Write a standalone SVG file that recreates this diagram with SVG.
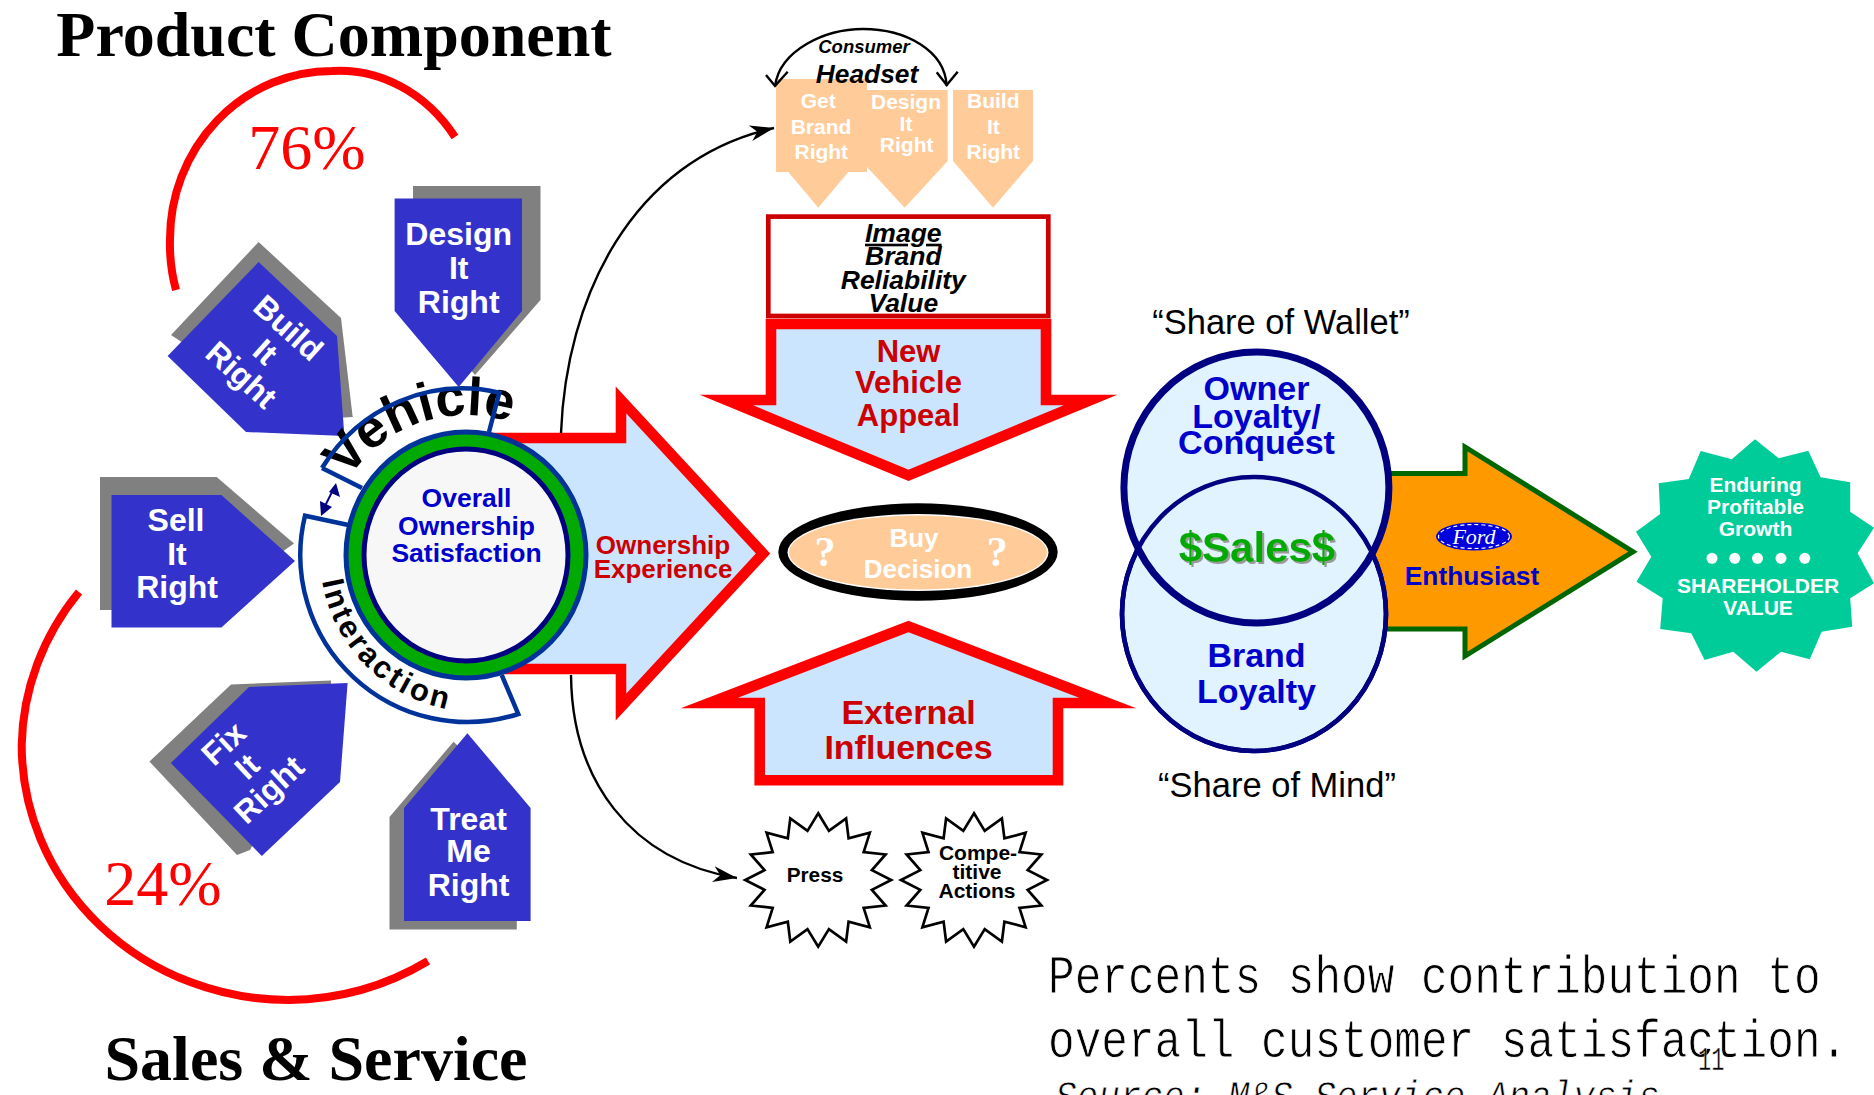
<svg xmlns="http://www.w3.org/2000/svg" xmlns:xlink="http://www.w3.org/1999/xlink" width="1874" height="1095" viewBox="0 0 1874 1095">
<style>
text{font-family:"Liberation Sans",Arial,sans-serif;font-weight:700;text-anchor:middle}
.w{fill:#fff}.b{fill:#0000cc}.r{fill:#cc0000}.k{fill:#000}
.bi{font-style:italic}
.ser{font-family:"Liberation Serif","Times New Roman",serif}
.mono{font-family:"Liberation Mono","Courier New",monospace;font-weight:400;text-anchor:start;stroke:#fff;stroke-width:.7px}
.blue{fill:#3333cc}.gray{fill:#808080}.peach{fill:#ffcc99}
.arc{fill:none;stroke:#ff0000;stroke-width:8}
.redarrow{fill:#cce5ff;stroke:#ff0000;stroke-width:10.6;stroke-miterlimit:10}
.band{fill:none;stroke:#003399;stroke-width:4.5}
.star{fill:#fff;stroke:#000;stroke-width:2.7}
.curve{fill:none;stroke:#000;stroke-width:2.4}
.n32{font-size:32px}.n21{font-size:21px}
</style>
<defs>
<marker id="stealth" markerUnits="userSpaceOnUse" markerWidth="30" markerHeight="20" refX="24" refY="10" orient="auto">
<path d="M0 2 L24 10 L0 18 L7 10Z" fill="#000"/>
</marker>
<filter id="shadow" x="-10%" y="-10%" width="120%" height="130%"><feDropShadow dx="2" dy="2" stdDeviation="0.5" flood-color="#999"/></filter>
<polygon id="burst" points="0,-66.7 10.7,-49.1 27.9,-61.6 30.4,-41.6 51.6,-47.2 45.5,-27.8 67.4,-25.5 53.7,-9.8 73,0 53.7,9.8 67.4,25.5 45.5,27.8 51.6,47.2 30.4,41.6 27.9,61.6 10.7,49.1 0,66.7 -10.7,49.1 -27.9,61.6 -30.4,41.6 -51.6,47.2 -45.5,27.8 -67.4,25.5 -53.7,9.8 -73,0 -53.7,-9.8 -67.4,-25.5 -45.5,-27.8 -51.6,-47.2 -30.4,-41.6 -27.9,-61.6 -10.7,-49.1"/>
<path id="vehPath" d="M348.6 478.8A140 140 0 0 1 536 433.8"/>
<path id="intPath" d="M322 581A158 158 0 0 0 458 711"/>
</defs>
<rect width="1874" height="1095" fill="#fff"/>

<g id="titles">
<text class="ser k" x="334" y="56" font-size="64">Product Component</text>
<text class="ser k" x="316" y="1080" font-size="64">Sales &amp; Service</text>
</g>
<g id="pct76"><path class="arc" d="M176 290A162 168 0 0 1 170 239A162 168 0 0 1 332 71A145 168 0 0 1 455 137"/>
<text class="ser" x="307" y="169" font-size="64" fill="#f00" style="font-weight:400">76%</text></g>
<g id="pct24"><path class="arc" d="M79 592A267 255 0 0 0 21.7 745A267 255 0 0 0 288.6 1000A267 255 0 0 0 428 961"/>
<text class="ser" x="163" y="905" font-size="64" fill="#f00" style="font-weight:400">24%</text></g>

<g id="ownership-arrow">
<polygon class="redarrow" points="480,438 621,438 621,400 763,553.5 621,707 621,669 480,669"/>
<text class="r" x="663" y="554" font-size="26">Ownership</text>
<text class="r" x="663" y="578" font-size="26">Experience</text>
</g>

<g id="design-it-right">
<polygon class="gray" points="413,186 540.5,186 540.5,300 475,375 413,300"/>
<polygon class="blue" points="394.6,198.6 522,198.6 522,311 458.7,387 394.6,311"/>
<text class="w n32" x="458.7" y="245">Design</text><text class="w n32" x="458.7" y="278.6">It</text><text class="w n32" x="458.7" y="312.5">Right</text>
</g>
<g id="build-it-right">
<polygon class="gray" points="258.6,242 341,318 352.7,417 300,420 171,335"/>
<polygon class="blue" points="258.6,262 337,336 344.4,436 246,432 167.6,356"/>
<text class="w n32" transform="translate(281 336) rotate(42)">Build</text>
<text class="w n32" transform="translate(258 360) rotate(42)">It</text>
<text class="w n32" transform="translate(234 383) rotate(42)">Right</text>
</g>
<g id="sell-it-right">
<polygon class="gray" points="100,477 216.7,477 294,543.6 200,610 100,610"/>
<polygon class="blue" points="111.5,495 221.4,495 295,561 221.4,627.4 111.5,627.4"/>
<text class="w n32" x="176" y="531">Sell</text><text class="w n32" x="177" y="565">It</text><text class="w n32" x="177" y="598">Right</text>
</g>
<g id="fix-it-right">
<polygon class="gray" points="231,684.4 331,680.5 331,700 250,850 237,855 149.5,761.6"/>
<polygon class="blue" points="249,687 347.6,683 340,782 261.8,856 170.8,763"/>
<text class="w n32" transform="translate(231 751.5) rotate(-43)">Fix</text>
<text class="w n32" transform="translate(254.5 774.5) rotate(-43)">It</text>
<text class="w n32" transform="translate(276.5 797.6) rotate(-43)">Right</text>
</g>
<g id="treat-me-right">
<polygon class="gray" points="453.5,741.8 389.5,817 389.5,929.4 516.8,929.4 516.8,800"/>
<polygon class="blue" points="467.4,733.3 530.6,808 530.6,921 404,921 404,808"/>
<text class="w n32" x="468.6" y="829.5">Treat</text><text class="w n32" x="468.6" y="862.4">Me</text><text class="w n32" x="468.6" y="896">Right</text>
</g>

<g id="vehicle-band">
<path d="M322 468A166 170 0 0 1 499.3 392.7L489 432L362 488Z" fill="#fff"/>
<text class="k" font-size="53.5"><textPath href="#vehPath" xlink:href="#vehPath" style="text-anchor:start">Vehicle</textPath></text>
<path class="band" d="M322 468A166 170 0 0 1 499.3 392.7L489 432M362 488L322 468"/>
</g>
<g id="interaction-band">
<path d="M305 515.7A167 167 0 0 0 518.3 714L501.7 675L348.3 525Z" fill="#fff"/>
<text class="k" font-size="31" letter-spacing="3.1"><textPath href="#intPath" xlink:href="#intPath" style="text-anchor:start">Interaction</textPath></text>
<path class="band" d="M348.3 525L305 515.7A167 167 0 0 0 518.3 714L501.7 675"/>
</g>
<g id="band-link">
<line x1="333" y1="490" x2="323" y2="510" stroke="#000080" stroke-width="2"/>
<polygon points="336,483 340,497 329,492" fill="#000080"/><polygon points="321,516 320,501 332,507" fill="#000080"/>
</g>
<g id="overall-satisfaction">
<ellipse cx="466" cy="555" rx="120" ry="123" fill="#00aa00" stroke="#003399" stroke-width="5"/>
<ellipse cx="466" cy="555" rx="102" ry="106" fill="#f7f7f7" stroke="#000080" stroke-width="5"/>
<text class="b" x="466.5" y="507" font-size="26.5">Overall</text>
<text class="b" x="466.5" y="535" font-size="26.5">Ownership</text>
<text class="b" x="466.5" y="562" font-size="26.5">Satisfaction</text>
</g>

<g id="get-brand-right">
<polygon class="peach" points="776,79 867,79 867,172 848.3,172 818.3,207.7 788.3,172 776,172"/>
<text class="w n21" x="818.3" y="108">Get</text><text class="w n21" x="821" y="134">Brand</text><text class="w n21" x="821.3" y="159">Right</text>
</g>
<g id="design-it-right-small">
<polygon class="peach" points="867,90 947.7,90 947.7,161 904.7,207.7 867,167"/>
<text class="w n21" x="906" y="109">Design</text><text class="w n21" x="906" y="131">It</text><text class="w n21" x="906.7" y="152">Right</text>
</g>
<g id="build-it-right-small">
<polygon class="peach" points="953,90 1033,90 1033,161 993,207.7 953,161"/>
<text class="w n21" x="993.3" y="108">Build</text><text class="w n21" x="993.3" y="134">It</text><text class="w n21" x="993.3" y="159">Right</text>
</g>
<g id="headset">
<text class="k bi" x="864" y="52.7" font-size="18.5">Consumer</text>
<text class="k bi" x="867" y="82.7" font-size="26.3">Headset</text>
</g>
<g id="attributes">
<rect x="768.3" y="216.6" width="280" height="99.4" fill="#fff" stroke="#cc0000" stroke-width="4.7"/>
<text class="k bi" x="903.3" y="241.7" font-size="26.5" text-decoration="underline">Image</text>
<text class="k bi" x="903.3" y="265" font-size="26.5">Brand</text>
<text class="k bi" x="903.3" y="289" font-size="26.5" textLength="125" lengthAdjust="spacingAndGlyphs">Reliability</text>
<text class="k bi" x="903.3" y="311.7" font-size="26.5">Value</text>
</g>
<g id="new-vehicle-appeal">
<polygon class="redarrow" points="771,324 1046,324 1046,400 1090.6,400 908.5,475.3 726.4,400 771,400"/>
<text class="r" x="908.5" y="361.7" font-size="31">New</text><text class="r" x="908.5" y="393.3" font-size="31">Vehicle</text><text class="r" x="908.5" y="426" font-size="31">Appeal</text>
</g>
<g id="buy-decision">
<ellipse cx="918" cy="552" rx="139.7" ry="48.7" fill="#000"/>
<ellipse cx="918" cy="552.5" rx="130.5" ry="38.5" fill="#fff"/>
<ellipse cx="918" cy="552.5" rx="129" ry="37" class="peach"/>
<text class="w" x="914" y="546.7" font-size="26">Buy</text><text class="w" x="918" y="578.3" font-size="26">Decision</text>
<text class="w ser" x="825" y="566" font-size="42">?</text><text class="w ser" x="997.3" y="566" font-size="42">?</text>
</g>
<g id="external-influences">
<polygon class="redarrow" points="908.5,626.5 1107.7,703 1058,703 1058,780.3 759.7,780.3 759.7,703 709.3,703"/>
<text class="r" x="908.5" y="724.3" font-size="34">External</text><text class="r" x="908.5" y="759.3" font-size="34">Influences</text>
</g>
<g id="press"><use href="#burst" xlink:href="#burst" class="star" x="818.2" y="880"/>
<text class="k" x="815" y="881.7" font-size="20.8">Press</text></g>
<g id="competitive-actions"><use href="#burst" xlink:href="#burst" class="star" x="974" y="880"/>
<text class="k" x="978" y="860" font-size="21">Compe-</text><text class="k" x="977" y="879.3" font-size="21">titive</text><text class="k" x="977" y="898.3" font-size="21">Actions</text></g>

<g id="enthusiast">
<polygon points="1370,473.5 1465,473.5 1465,447 1633,551.7 1465,656 1465,629 1370,629" fill="#ff9900" stroke="#006600" stroke-width="5" stroke-miterlimit="10"/>
<ellipse cx="1474" cy="536.5" rx="38" ry="14" fill="#0000dd"/>
<ellipse cx="1474" cy="536.5" rx="35.5" ry="12" fill="none" stroke="#fff" stroke-width="1.2" stroke-dasharray="4 3"/>
<text class="w ser bi" x="1474" y="544" font-size="22" style="font-weight:400">Ford</text>
<text class="b" x="1472" y="585" font-size="26.3">Enthusiast</text>
</g>
<g id="venn">
<text class="k" x="1281" y="334.3" font-size="34.5" style="font-weight:400">“Share of Wallet”</text>
<ellipse cx="1254" cy="614" rx="132" ry="137" fill="#e1f3ff" stroke="#000080" stroke-width="4.6"/>
<ellipse cx="1256.4" cy="487.5" rx="132.5" ry="135.5" fill="#e1f3ff" stroke="#000080" stroke-width="7"/>
<ellipse cx="1254" cy="614" rx="132" ry="137" fill="none" stroke="#000080" stroke-width="4.6"/>
<text class="b" x="1256.5" y="400" font-size="34">Owner</text><text class="b" x="1256.5" y="427.7" font-size="34">Loyalty/</text><text class="b" x="1256.5" y="454" font-size="34">Conquest</text>
<text x="1257" y="561.7" font-size="42" fill="#00aa00" filter="url(#shadow)">$Sales$</text>
<text class="b" x="1256.5" y="667.3" font-size="34">Brand</text><text class="b" x="1256.5" y="703.3" font-size="34">Loyalty</text>
<text class="k" x="1277" y="796.7" font-size="34.5" style="font-weight:400">“Share of Mind”</text>
</g>
<g id="shareholder-value">
<polygon fill="#00cc99" points="1636,531.7 1660.2,514 1658.7,483.3 1688.8,479 1700.7,451 1731.8,459.3 1755,439.3 1778.7,458.3 1808.3,450.7 1820.6,477.3 1850.2,482.3 1850.2,511.7 1874,527.7 1857.6,553.3 1874,583.3 1850.2,598.3 1852.2,626.7 1821.6,631.7 1809.8,659.3 1781,651.7 1756.5,671.7 1733.3,651.7 1704.6,660 1691.3,633.3 1660.2,629 1662.7,598.3 1636.5,581.7 1651.3,556.7"/>
<text class="w n21" x="1755.5" y="491.7">Enduring</text><text class="w n21" x="1755.5" y="514">Profitable</text><text class="w n21" x="1755.5" y="536">Growth</text>
<g fill="#fff"><circle cx="1712" cy="558.3" r="5.5"/><circle cx="1734.8" cy="558.3" r="5.5"/><circle cx="1757.5" cy="558.3" r="5.5"/><circle cx="1781" cy="558.3" r="5.5"/><circle cx="1804.8" cy="558.3" r="5.5"/></g>
<text class="w n21" x="1758" y="592.7">SHAREHOLDER</text><text class="w n21" x="1758" y="615">VALUE</text>
</g>

<g id="notes">
<text class="mono k" transform="translate(1048 993.3) scale(1 1.2)" font-size="44.4">Percents show contribution to</text>
<text class="mono k" transform="translate(1048 1056.7) scale(1 1.2)" font-size="44.4">overall customer satisfaction.</text>
<text class="mono k" transform="translate(1055 1110) scale(1 1.2)" font-size="36" font-style="italic">Source: M&amp;S Service Analysis</text>
<text class="mono k" transform="translate(1698 1070) scale(1 1.55)" font-size="22" style="stroke-width:.3px">11</text>
</g>

<g id="connectors">
<path class="curve" d="M561 433C566 300 630 160 774 128" marker-end="url(#stealth)"/>
<path class="curve" d="M571 675C572 780 630 860 737 878" marker-end="url(#stealth)"/>
<path class="curve" d="M775 86C780 50 825 29 863 29C905 29 945 50 946.7 86"/>
<path class="curve" d="M766 75L775 86L787.7 71.7M936.7 72.3L946.7 85L957.7 71.7"/>
</g>
</svg>
